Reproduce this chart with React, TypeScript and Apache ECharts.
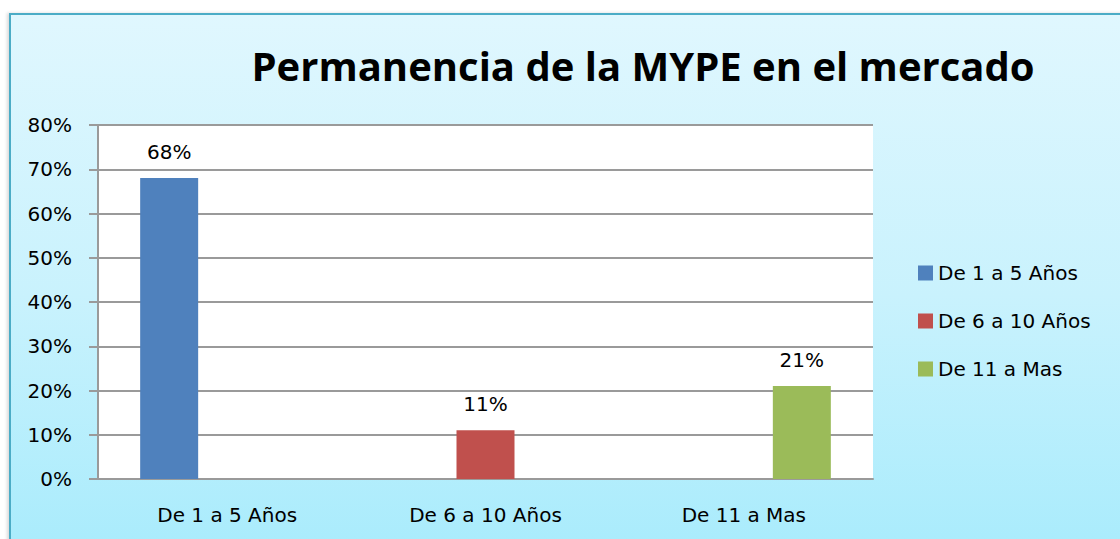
import React, { useEffect, useRef } from "react";
import * as echarts from "echarts";

const categories = ["De 1 a 5 Años", "De 6 a 10 Años", "De 11 a Mas"];
const seriesNames = ["De 1 a 5 Años", "De 6 a 10 Años", "De 11 a Mas"];
const seriesValues: (number | null)[][] = [
  [0.68, null, null],
  [null, 0.11, null],
  [null, null, 0.21],
];
const seriesColors = ["#4f81bd", "#c0504d", "#9bbb59"];
const titleText = "Permanencia de la MYPE en el mercado";
const FONT = "'DejaVu Sans', sans-serif";

export default function App() {
  const ref = useRef<HTMLDivElement>(null);
  useEffect(() => {
    if (!ref.current) return;
    const chart = echarts.init(ref.current, undefined, { renderer: "svg" });
    chart.setOption({
      animation: false,
      backgroundColor: "transparent",
      title: {
        text: titleText,
        left: 638,
        textAlign: "center",
        top: 40,
        textStyle: { fontFamily: "'Open Sans', sans-serif", fontWeight: "bold", fontSize: 40, color: "#000" },
      },
      legend: {
        orient: "vertical",
        left: 913,
        top: 258,
        itemWidth: 15,
        itemHeight: 15,
        itemGap: 28,
        icon: "rect",
        data: seriesNames,
        textStyle: { fontFamily: FONT, fontSize: 20, color: "#000" },
      },
      grid: {
        left: 98,
        top: 125,
        width: 775,
        height: 354,
        show: true,
        backgroundColor: "#ffffff",
        borderWidth: 0,
      },
      xAxis: {
        type: "category",
        data: categories,
        axisTick: { show: false },
        axisLine: { lineStyle: { color: "#9a9a9a", width: 2 } },
        axisLabel: { fontFamily: FONT, fontSize: 20, color: "#000", margin: 26 },
      },
      yAxis: {
        type: "value",
        min: 0,
        max: 0.8,
        interval: 0.1,
        axisLine: { show: true, lineStyle: { color: "#9a9a9a", width: 2 } },
        axisTick: { show: true, length: 9, lineStyle: { color: "#9a9a9a", width: 2 } },
        splitLine: { lineStyle: { color: "#9a9a9a", width: 2 } },
        axisLabel: {
          fontFamily: FONT,
          fontSize: 20,
          color: "#000",
          margin: 26,
          formatter: (v: number) => Math.round(v * 100) + "%",
        },
      },
      series: seriesNames.map((name, i) => ({
        name,
        type: "bar",
        data: seriesValues[i],
        barWidth: 58,
        barGap: "0%",
        itemStyle: { color: seriesColors[i] },
        label: {
          show: true,
          position: "top",
          distance: 16,
          fontFamily: FONT,
          fontSize: 20,
          color: "#000",
          formatter: (p: any) => Math.round(p.value * 100) + "%",
        },
      })),
    });
    return () => chart.dispose();
  }, []);

  return (
    <div style={{ position: "fixed", left: 0, top: 0, width: 1120, height: 539, background: "#fff", overflow: "hidden" }}>
      <div
        style={{
          position: "absolute",
          left: 9,
          top: 13,
          width: 1130,
          height: 560,
          borderTop: "2px solid #4bacc6",
          borderLeft: "2px solid #4bacc6",
          background: "linear-gradient(to bottom, #e0f7fe 0%, #c9f2fd 50%, #a6ebfc 100%)",
          boxShadow: "-2px 0 3px rgba(0,0,0,0.15)",
        }}
      />
      <div ref={ref} style={{ position: "absolute", left: 0, top: 0, width: 1120, height: 539 }} />
    </div>
  );
}
